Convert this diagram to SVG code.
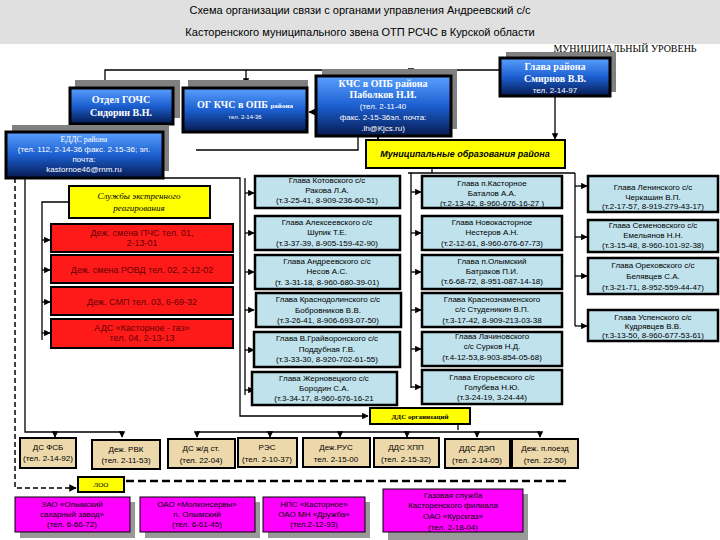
<svg xmlns="http://www.w3.org/2000/svg" width="720" height="540" viewBox="0 0 720 540">
<defs>
<linearGradient id="bg" x1="0" y1="0" x2="0" y2="1"><stop offset="0" stop-color="#5aa0ff"/><stop offset="0.5" stop-color="#1c5fd0"/><stop offset="1" stop-color="#061a50"/></linearGradient>
<marker id="a" viewBox="0 0 10 10" refX="9" refY="5" markerWidth="5" markerHeight="5" orient="auto"><path d="M0,0L10,5L0,10z" fill="#000"/></marker>
</defs>
<style>
.sh{fill:#808080}
.bl{fill:url(#bg);stroke:#000;stroke-width:3}
.ye{fill:#ffff00;stroke:#000;stroke-width:2}
.rd{fill:#ff1a1a;stroke:#000;stroke-width:2}
.cy{fill:#bfe2ec;stroke:#000;stroke-width:2.5}
.tn{fill:#ecd8aa;stroke:#000;stroke-width:2}
.mg{fill:#ff00ff;stroke:#000;stroke-width:1}
.msh{fill:#999}
text{font-family:"Liberation Sans",Arial,sans-serif;font-size:8px;text-anchor:middle;fill:#000}
.w{fill:#fff}
.wb{fill:#fff;font-family:"Liberation Serif",serif;font-weight:bold;font-size:10px}
.it{font-style:italic;font-family:"Liberation Serif",serif;font-size:9px}
.ib{font-style:italic;font-weight:bold;font-size:9px}
.rt{fill:#600;font-size:9px}
.ln{fill:none;stroke:#000;stroke-width:1.3}
.dl{fill:none;stroke:#000;stroke-width:1.5;stroke-dasharray:5,3}
</style>
<rect x="0" y="0" width="720" height="44" fill="#e0e0e0"/>
<text x="360" y="14" style="font-size:11px">Схема организации связи с органами управления Андреевский с/с</text>
<text x="360" y="36" style="font-size:11px">Касторенского муниципального звена ОТП РСЧС в  Курской области</text>
<text x="625" y="52" style="font-family:'Liberation Serif',serif;font-size:10px">МУНИЦИПАЛЬНЫЙ УРОВЕНЬ</text>

<g id="connectors">
<path class="ln" d="M500,70H105V86" marker-end="url(#a)"/>
<path class="ln" d="M246,70V84" marker-end="url(#a)"/>
<path class="ln" d="M411,70V74" marker-end="url(#a)"/>
<path class="ln" d="M316,112H309" marker-end="url(#a)"/>
<path class="ln" d="M555,96V139" marker-end="url(#a)"/>
<path class="ln" d="M378,136V139" marker-end="url(#a)"/>
<path class="ln" d="M358,136V150H196"/>
<path class="ln" d="M432,168V173"/>
<path class="ln" d="M408,173H575" />
<path class="ln" d="M245,178V395"/>
<path class="ln" d="M245,193H254" marker-end="url(#a)"/>
<path class="ln" d="M245,233H254" marker-end="url(#a)"/>
<path class="ln" d="M245,272H254" marker-end="url(#a)"/>
<path class="ln" d="M245,310H254" marker-end="url(#a)"/>
<path class="ln" d="M245,350H254" marker-end="url(#a)"/>
<path class="ln" d="M245,390H254" marker-end="url(#a)"/>
<path class="ln" d="M411,173V388"/>
<path class="ln" d="M411,192H421" marker-end="url(#a)"/>
<path class="ln" d="M411,233H421" marker-end="url(#a)"/>
<path class="ln" d="M411,272H421" marker-end="url(#a)"/>
<path class="ln" d="M411,310H421" marker-end="url(#a)"/>
<path class="ln" d="M411,349H421" marker-end="url(#a)"/>
<path class="ln" d="M411,387H421" marker-end="url(#a)"/>
<path class="ln" d="M575,173V326"/>
<path class="ln" d="M575,186H587" marker-end="url(#a)"/>
<path class="ln" d="M575,237H587" marker-end="url(#a)"/>
<path class="ln" d="M575,276H587" marker-end="url(#a)"/>
<path class="ln" d="M575,326H587" marker-end="url(#a)"/>
<path class="ln" d="M163,178H240V416H368" marker-end="url(#a)"/>
<path class="ln" d="M69,202H42V340"/>
<path class="ln" d="M42,240H50" marker-end="url(#a)"/>
<path class="ln" d="M42,270H50" marker-end="url(#a)"/>
<path class="ln" d="M42,302H50" marker-end="url(#a)"/>
<path class="ln" d="M42,333H50" marker-end="url(#a)"/>
<path class="ln" d="M25,178V432H122V437" marker-end="url(#a)"/>
<path class="ln" d="M55,432V437" marker-end="url(#a)"/>
<path class="ln" d="M458,424V430"/>
<path class="ln" d="M197,432H540"/>
<path class="ln" d="M197,432V437" marker-end="url(#a)"/>
<path class="ln" d="M270,432V437" marker-end="url(#a)"/>
<path class="ln" d="M340,432V437" marker-end="url(#a)"/>
<path class="ln" d="M407,432V437" marker-end="url(#a)"/>
<path class="ln" d="M477,432V437" marker-end="url(#a)"/>
<path class="ln" d="M540,432V437" marker-end="url(#a)"/>
<path class="dl" d="M15,178V488H76" marker-end="url(#a)"/>
<path class="dl" d="M126,481H570" style="stroke-width:2.5;stroke-dasharray:8,4"/>
</g>

<g id="n-gochs"><rect class="sh" x="75" y="80" width="105" height="38"/><rect class="bl" x="70" y="88" width="103" height="36"/><text class="wb" x="121" y="103">Отдел  ГОЧС</text><text class="wb" x="121" y="116">Сидорин В.Н.</text></g>
<g id="n-ogkchs"><rect class="sh" x="188" y="80" width="120" height="44"/><rect class="bl" x="183" y="88" width="124" height="44"/><text class="wb" x="245" y="108">ОГ КЧС в ОПБ <tspan style="font-size:7px">района</tspan></text><text class="w" x="245" y="119" style="font-size:6px">тел. 2-14-36</text></g>
<g id="n-kchs"><rect class="sh" x="322" y="69" width="135" height="60"/><rect class="bl" x="316" y="76" width="135" height="60"/><text class="wb" x="383" y="87">КЧС в ОПБ района</text><text class="wb" x="383" y="98">Паболков Н.И.</text><text class="w" x="383" y="109">(тел. 2-11-40</text><text class="w" x="383" y="120">факс. 2-15-36эл. почта:</text><text class="w" x="383" y="131">.lh@Kjcs.ru)</text></g>
<g id="n-glava"><rect class="sh" x="506" y="52" width="110" height="40"/><rect class="bl" x="500" y="58" width="110" height="38"/><text class="wb" x="555" y="70">Глава района</text><text class="wb" x="555" y="82">Смирнов В.В.</text><text class="w" x="555" y="93">тел. 2-14-97</text></g>
<g id="n-edds"><rect class="sh" x="12" y="125" width="157" height="46"/><rect class="bl" x="6" y="132" width="157" height="46"/><text class="w" x="84" y="142" style="font-family:'Liberation Serif',serif">ЕДДС района</text><text class="w" x="84" y="152">(тел. 112, 2-14-36 факс. 2-15-36; эл.</text><text class="w" x="84" y="162">почта:</text><text class="w" x="84" y="172">kastornoe46@rnm.ru</text></g>
<g id="n-mun"><rect class="ye" x="366" y="140" width="199" height="28"/><text class="ib" x="465" y="157">Муниципальные образования района</text></g>
<g id="n-sluzhby"><rect class="ye" x="69" y="186" width="141" height="32"/><text class="it" x="139" y="199">Службы экстренного</text><text class="it" x="139" y="211">реагирования</text></g>
<g id="n-pps"><rect class="rd" x="51" y="224" width="182" height="28"/><text class="rt" x="142" y="236">Деж. смена ПЧС  тел. 01,</text><text class="rt" x="142" y="246">2-13-01</text></g>
<g id="n-rovd"><rect class="rd" x="51" y="255" width="182" height="28"/><text class="rt" x="142" y="273">Деж. смена РОВД  тел. 02, 2-12-02</text></g>
<g id="n-smp"><rect class="rd" x="51" y="287" width="182" height="28"/><text class="rt" x="142" y="305">Деж. СМП  тел. 03, 6-69-32</text></g>
<g id="n-ads"><rect class="rd" x="51" y="319" width="182" height="29"/><text class="rt" x="142" y="331">АДС «Касторное - газ»</text><text class="rt" x="142" y="341">тел. 04, 2-13-13</text></g>

<g id="n-kot"><rect class="cy" x="255" y="176" width="145" height="32"/><text x="327" y="183">Глава  Котовского с/с</text><text x="327" y="193">Ракова Л.А.</text><text x="327" y="203">(т.3-25-41, 8-909-236-60-51)</text></g>
<g id="n-alek"><rect class="cy" x="255" y="216" width="145" height="34"/><text x="327" y="225">Глава  Алексеевского  с/с</text><text x="327" y="235">Шупик Т.Е.</text><text x="327" y="246">(т.3-37-39, 8-905-159-42-90)</text></g>
<g id="n-andr"><rect class="cy" x="255" y="255" width="145" height="34"/><text x="327" y="264">Глава  Андреевского   с/с</text><text x="327" y="274">Несов А.С.</text><text x="327" y="285">(т. 3-31-18, 8-960-680-39-01)</text></g>
<g id="n-krd"><rect class="cy" x="256" y="293" width="145" height="34"/><text x="328" y="302">Глава  Краснодолинского с/с</text><text x="328" y="313">Бобровников В.В.</text><text x="328" y="323">(т.3-26-41, 8-906-693-07-50)</text></g>
<g id="n-vgr"><rect class="cy" x="254" y="332" width="146" height="35"/><text x="327" y="341">Глава   В.Грайворонского с/с</text><text x="327" y="352">Поддубная Г.В.</text><text x="327" y="362">(т.3-33-30, 8-920-702-61-55)</text></g>
<g id="n-zher"><rect class="cy" x="252" y="372" width="145" height="33"/><text x="324" y="381">Глава  Жерновецкого  с/с</text><text x="324" y="391">Бородин С.А.</text><text x="324" y="401">(т.3-34-17, 8-960-676-16-21</text></g>

<g id="n-kas"><rect class="cy" x="422" y="176" width="140" height="32"/><text x="492" y="186">Глава п.Касторное</text><text x="492" y="196">Баталов А.А.</text><text x="492" y="206">(т.2-13-42, 8-960-676-16-27 )</text></g>
<g id="n-nov"><rect class="cy" x="422" y="216" width="140" height="34"/><text x="492" y="225">Глава Новокасторное</text><text x="492" y="235">Нестеров А.Н.</text><text x="492" y="246">(т.2-12-61, 8-960-676-67-73)</text></g>
<g id="n-oly"><rect class="cy" x="422" y="255" width="140" height="34"/><text x="492" y="264">Глава п.Олымский</text><text x="492" y="274">Батраков П.И.</text><text x="492" y="284">(т.6-68-72, 8-951-087-14-18)</text></g>
<g id="n-krz"><rect class="cy" x="422" y="293" width="140" height="34"/><text x="492" y="302">Глава   Краснознаменского</text><text x="492" y="312">с/с Студеникин В.П.</text><text x="492" y="323">(т.3-17-42, 8-909-213-03-38</text></g>
<g id="n-lach"><rect class="cy" x="422" y="332" width="140" height="34"/><text x="492" y="339">Глава  Лачиновского</text><text x="492" y="349">с/с Сурков Н.Д.</text><text x="492" y="360">(т.4-12-53,8-903-854-05-68)</text></g>
<g id="n-egor"><rect class="cy" x="422" y="370" width="140" height="34"/><text x="492" y="380">Глава  Егорьевского  с/с</text><text x="492" y="390">Голубева Н.Ю.</text><text x="492" y="400">(т.3-24-19, 3-24-44)</text></g>

<g id="n-len"><rect class="cy" x="588" y="176" width="130" height="36"/><text x="653" y="190">Глава  Ленинского с/с</text><text x="653" y="200">Черкашин В.П.</text><text x="653" y="209">(т.2-17-57, 8-919-279-43-17)</text></g>
<g id="n-sem"><rect class="cy" x="588" y="220" width="130" height="32"/><text x="653" y="228">Глава   Семеновского с/с</text><text x="653" y="238">Емельянов Н.Н.</text><text x="653" y="248">(т.3-15-48, 8-960-101-92-38)</text></g>
<g id="n-ore"><rect class="cy" x="588" y="258" width="130" height="36"/><text x="653" y="268">Глава  Ореховского с/с</text><text x="653" y="279">Белявцев С.А.</text><text x="653" y="290">(т.3-21-71, 8-952-559-44-47)</text></g>
<g id="n-usp"><rect class="cy" x="588" y="310" width="130" height="31"/><text x="653" y="320">Глава Успенского с/с</text><text x="653" y="329">Кудрявцев В.В.</text><text x="653" y="338">(т.3-13-50, 8-960-677-53-61)</text></g>

<g id="n-ddsorg"><rect class="ye" x="370" y="408" width="100" height="16"/><text x="420" y="419" style="font-family:'Liberation Serif',serif;font-weight:bold;font-size:7px">ДДС организаций</text></g>
<g id="n-fsb"><rect class="tn" x="20" y="438" width="56" height="30"/><text x="48" y="450">ДС ФСБ</text><text x="48" y="461">(тел. 2-14-92)</text></g>
<g id="n-rvk"><rect class="tn" x="92" y="440" width="68" height="29"/><text x="126" y="452">Деж. РВК</text><text x="126" y="463">(тел. 2-11-53)</text></g>
<g id="n-zhd"><rect class="tn" x="168" y="439" width="67" height="29"/><text x="201" y="451">ДС ж/д ст.</text><text x="201" y="463">(тел. 22-04)</text></g>
<g id="n-res"><rect class="tn" x="238" y="438" width="59" height="29"/><text x="267" y="450">РЭС</text><text x="267" y="462">(тел. 2-10-37)</text></g>
<g id="n-rus"><rect class="tn" x="303" y="438" width="67" height="29"/><text x="336" y="450">Деж.РУС</text><text x="336" y="462">тел. 2-15-00</text></g>
<g id="n-hpp"><rect class="tn" x="374" y="438" width="65" height="29"/><text x="406" y="450">ДДС ХПП</text><text x="406" y="462">(тел. 2-15-32)</text></g>
<g id="n-dep"><rect class="tn" x="445" y="439" width="65" height="29"/><text x="477" y="451">ДДС ДЭП</text><text x="477" y="463">(тел. 2-14-05)</text></g>
<g id="n-poezd"><rect class="tn" x="512" y="439" width="66" height="29"/><text x="545" y="451">Деж. п.поезд</text><text x="545" y="463">(тел. 22-50)</text></g>
<g id="n-loo"><rect class="ye" x="78" y="477" width="46" height="15"/><text x="101" y="487" style="font-family:'Liberation Serif',serif;font-size:7px">ЛОО</text></g>
<g id="n-zao"><rect class="msh" x="20" y="502" width="115" height="36"/><rect class="mg" x="15" y="497" width="115" height="35"/><text x="72" y="507">ЗАО «Олымский</text><text x="72" y="517">сахарный завод»</text><text x="72" y="527">(тел. 6-66-72)</text></g>
<g id="n-molo"><rect class="msh" x="145" y="502" width="115" height="36"/><rect class="mg" x="140" y="497" width="115" height="35"/><text x="197" y="507">ОАО «Молконсервы»</text><text x="197" y="517">п. Олымский</text><text x="197" y="527">(тел. 6-61-45)</text></g>
<g id="n-nps"><rect class="msh" x="268" y="502" width="102" height="36"/><rect class="mg" x="263" y="497" width="102" height="35"/><text x="314" y="507">НПС «Касторное»</text><text x="314" y="517">ОАО  МН «Дружба»</text><text x="314" y="527">(тел.2-12-93)</text></g>
<g id="n-gaz"><rect class="msh" x="388" y="494" width="140" height="46"/><rect class="mg" x="383" y="489" width="140" height="43"/><text x="453" y="498">Газовая  служба</text><text x="453" y="508">Касторенского филиала</text><text x="453" y="519">ОАО «Курскгаз»</text><text x="453" y="530">(тел. 2-18-04)</text></g>
</svg>
